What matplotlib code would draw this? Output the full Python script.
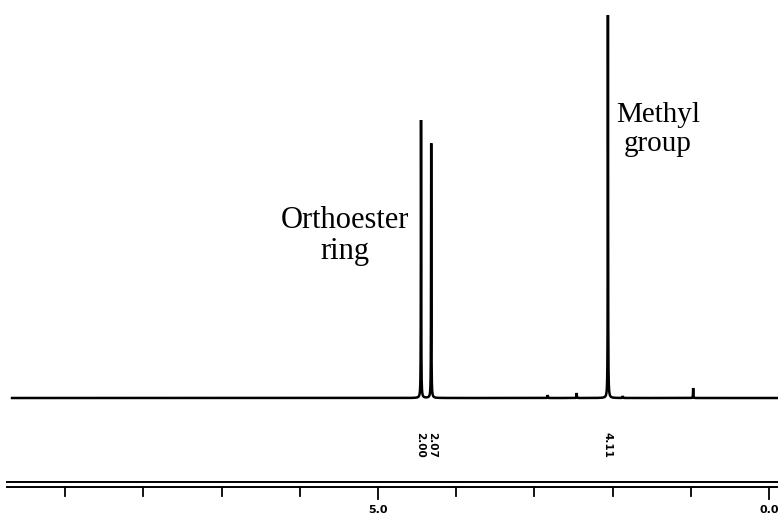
import numpy as np
import matplotlib
matplotlib.use("Agg")
import matplotlib.pyplot as plt

# ---- data ----
peak_ppm = [4.45, 4.32, 2.06, 2.83, 2.46, 1.87, 0.97]
peak_height = [278, 255, 383, 3, 5, 2, 10]
integral_ppm = [4.46, 4.31, 2.07]
integral_labels = ["2.00", "2.07", "4.11"]
tick_ppm = [9, 8, 7, 6, 5, 4, 3, 2, 1, 0]
tick_labels = {5: "5.0", 0: "0.0"}

fig = plt.figure(figsize=(7.78, 5.18), dpi=100)
ax = fig.add_axes([0, 0, 1, 1])
ax.set_xlim(9.834, -0.115)
ax.set_ylim(-120, 398)
ax.axis("off")

x = np.linspace(9.68, -0.115, 60000)
hw = 0.0022
y = np.zeros_like(x)
for p, h in zip(peak_ppm, peak_height):
    y += h / (1 + ((x - p) / hw) ** 2)
ax.plot(x, y, color="black", lw=1.8, solid_joinstyle="miter")

# labels
serif = ["Liberation Serif", "DejaVu Serif"]
ax.text(5.42, 177, "Orthoester", family=serif, fontsize=22, ha="center", va="center")
ax.text(5.42, 146, "ring", family=serif, fontsize=22, ha="center", va="center")
ax.text(1.42, 283, "Methyl", family=serif, fontsize=21, ha="center", va="center")
ax.text(1.42, 254, "group", family=serif, fontsize=21, ha="center", va="center")

# integration values
for p, lab in zip(integral_ppm, integral_labels):
    ax.text(p, -47, lab, rotation=270, fontsize=7.5, fontweight="bold",
            ha="center", va="center", family="DejaVu Sans")

# bottom ppm scale (double line)
ax.plot([9.74, -0.115], [-84, -84], color="black", lw=1.4)
ax.plot([9.74, -0.115], [-89, -89], color="black", lw=1.4)
for t in tick_ppm:
    length = 12 if t in tick_labels else 9
    ax.plot([t, t], [-89, -89 - length], color="black", lw=1.3)
    if t in tick_labels:
        ax.text(t, -112, tick_labels[t], fontsize=8, fontweight="bold",
                ha="center", va="center", family="DejaVu Sans")

fig.savefig("out.png", dpi=100)
